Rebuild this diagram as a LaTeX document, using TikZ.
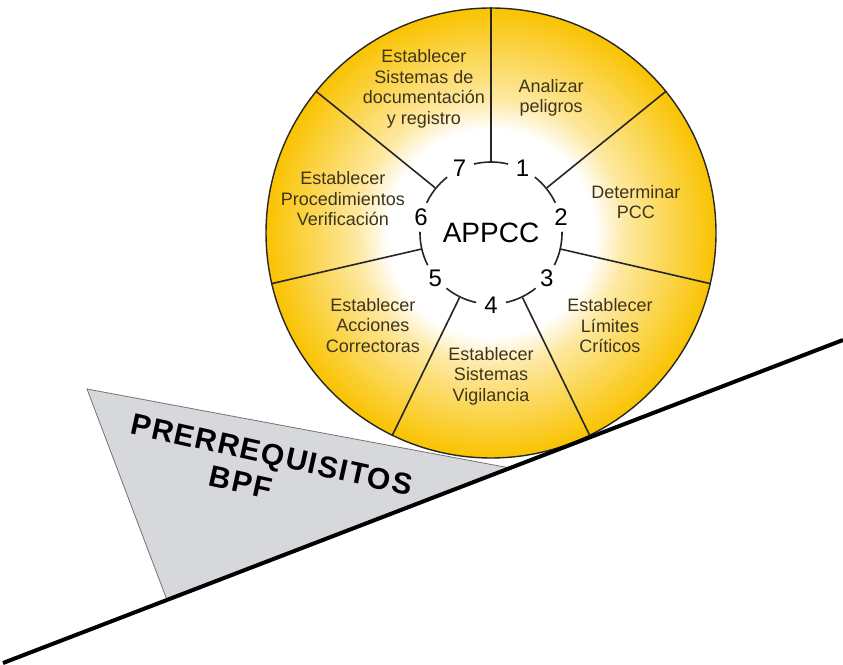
\documentclass[tikz,border=0pt]{standalone}
\usepackage{fontspec}
\setmainfont{Liberation Sans}
\newfontfamily\platefont[LetterSpace=5]{Liberation Sans}
\definecolor{yolk}{RGB}{249,195,0}
\definecolor{yolkpale}{RGB}{253,232,160}
\definecolor{ink}{RGB}{62,52,30}
\definecolor{slab}{RGB}{214,216,220}
\pgfdeclareradialshading{yolkfade}{\pgfpoint{0bp}{0bp}}{color(0bp)=(white); color(11.5bp)=(white); color(15bp)=(yolkpale); color(25bp)=(yolk); color(50bp)=(yolk)}

\begin{document}
\begin{tikzpicture}[x=1pt,y=1pt]
	\tikzstyle{wheel}=[circle,draw=black!85,line width=1.4pt,shading=yolkfade,minimum size=450pt,inner sep=0pt]
	\tikzstyle{hub}=[circle,draw=black!85,line width=1.6pt,minimum size=142pt,inner sep=0pt,font=\fontsize{28}{28}\selectfont]
	\tikzstyle{spoke}=[draw=black!85,line width=1.6pt]
	\tikzstyle{digit}=[circle,fill=white,inner sep=0pt,minimum size=30pt,font=\fontsize{24}{24}\selectfont]
	\tikzstyle{stage}=[align=center,text=ink,font=\fontsize{18}{20.5}\selectfont]
	\tikzstyle{base}=[rotate=-12.5,align=center,font=\platefont\bfseries\fontsize{30}{34}\selectfont]
	\useasboundingbox (0,0) rectangle (843,664);
	\coordinate (t1) at (87,275);
	\coordinate (t2) at (167,64);
	\coordinate (t3) at (510,196);
	\coordinate (g1) at (3,1);
	\coordinate (g2) at (843,324);
	\path[fill=slab,draw=black!55,line width=0.8pt] (t1) -- (t2) -- (t3) -- cycle;
	\node[base] (prq) at (268,193) {PRERREQUISITOS\\\hspace*{-48pt}BPF};
	\begin{scope}[shift={(491,431)}]
		\node [wheel] (wheel) at (0,0) {};
		\node [hub] (hub) at (0,0) {APPCC};
		\path[spoke] (hub.90) -- (wheel.90);
		\path[spoke] (hub.39) -- (wheel.39);
		\path[spoke] (hub.-13) -- (wheel.-13);
		\path[spoke] (hub.-64) -- (wheel.-64);
		\path[spoke] (hub.-116) -- (wheel.-116);
		\path[spoke] (hub.-167) -- (wheel.-167);
		\path[spoke] (hub.141) -- (wheel.141);
		\node [digit] (n1) at (hub.64) {1};
		\node [digit] (n2) at (hub.13) {2};
		\node [digit] (n3) at (hub.-39) {3};
		\node [digit] (n4) at (hub.-90) {4};
		\node [digit] (n5) at (hub.-141) {5};
		\node [digit] (n6) at (hub.167) {6};
		\node [digit] (n7) at (hub.116) {7};
		\node [stage] (s1) at (66:148) {Analizar\\peligros};
		\node [stage] (s2) at (12:148) {Determinar\\PCC};
		\node [stage] (s3) at (-38:151) {Establecer\\Límites\\Críticos};
		\node [stage] (s4) at (-90:143) {Establecer\\Sistemas\\Vigilancia};
		\node [stage] (s5) at (-142:150) {Establecer\\Acciones\\Correctoras};
		\node [stage] (s6) at (167:152) {Establecer\\Procedimientos\\Verificación};
		\node [stage] (s7) at (115:159) {Establecer\\Sistemas de\\documentación\\y registro};
	\end{scope}
	\path[draw,line width=4pt] (g1) -- (g2);
\end{tikzpicture}
\end{document}
